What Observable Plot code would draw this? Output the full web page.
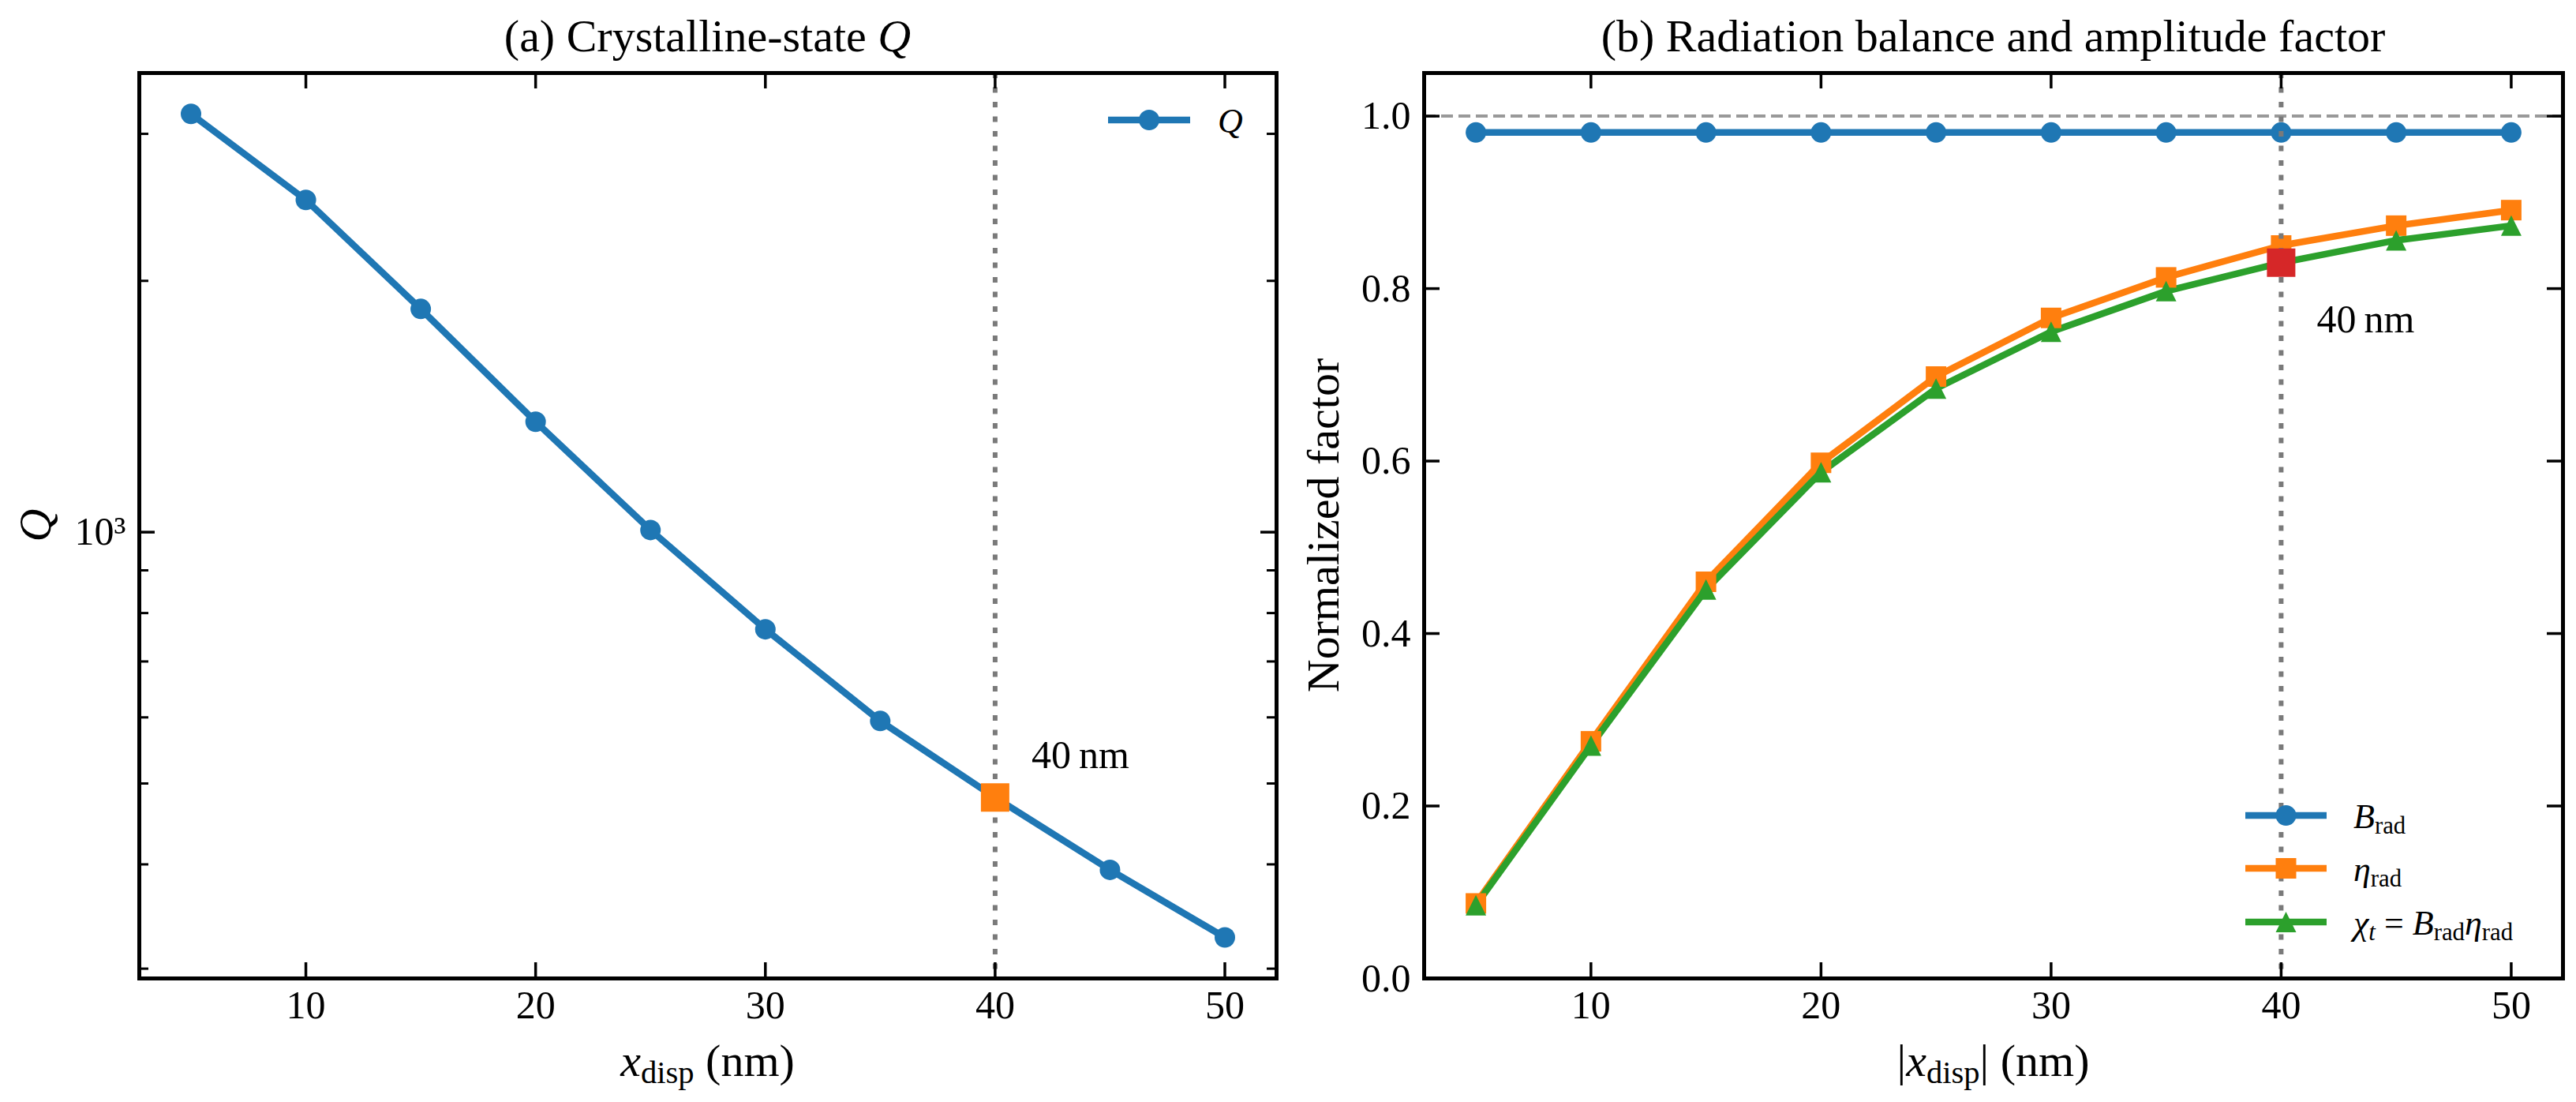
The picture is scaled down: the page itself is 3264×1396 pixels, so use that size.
<!DOCTYPE html>
<html>
<head>
<meta charset="utf-8">
<script src="https://cdn.jsdelivr.net/npm/d3@7"></script>
<script src="https://cdn.jsdelivr.net/npm/@observablehq/plot@0.6"></script>
<style>
html, body { margin: 0; padding: 0; background: #ffffff; }
#page { position: relative; width: 3264px; height: 1396px; overflow: hidden; background: #fff; }
.panel { position: absolute; top: 0; }
#overlay { position: absolute; left: 0; top: 0; pointer-events: none; }
</style>
</head>
<body>
<div id="page">
  <div id="left" class="panel" style="left:0px;width:1640px;"></div>
  <div id="right" class="panel" style="left:1640px;width:1624px;"></div>
</div>
<script>
// ---------------- data ----------------
const xDisp = [5, 10, 15, 20, 25, 30, 35, 40, 45, 50];
const qValues = [3170, 2500, 1851, 1356, 1006, 765, 594, 481, 394, 327];
const bRad = [0.981, 0.981, 0.981, 0.981, 0.981, 0.981, 0.981, 0.981, 0.981, 0.981];
const etaRad = [0.087, 0.275, 0.460, 0.598, 0.698, 0.766, 0.813, 0.850, 0.873, 0.891];
const chiT = [0.085, 0.270, 0.451, 0.587, 0.684, 0.750, 0.797, 0.830, 0.856, 0.873];
const xTicks = [10, 20, 30, 40, 50];
const qMajorTicks = [1000];
const qMinorTicks = [300, 400, 500, 600, 700, 800, 900, 2000, 3000];
const factorTicks = [0, 0.2, 0.4, 0.6, 0.8, 1.0];
const highlightX = 40;
const xDomain = [2.75, 52.25];
const qDomain = [292, 3548];
const factorDomain = [0, 1.05];

// ---------------- helpers ----------------
const FONT = '"Liberation Serif", "Times New Roman", "DejaVu Serif", serif';
const C = {blue: "#1f77b4", orange: "#ff7f0e", green: "#2ca02c", red: "#d62728"};
const H = 1396, MT = 92, MB = 157;
const FH = H - MT - MB;
const TL = 20, TLm = 12;

const mplSquare = {draw(ctx, size) { const r = Math.sqrt(size / Math.PI); ctx.rect(-r, -r, 2 * r, 2 * r); }};
const mplTriangle = {draw(ctx, size) { const r = Math.sqrt(size / Math.PI); ctx.moveTo(0, -r); ctx.lineTo(r, r); ctx.lineTo(-r, r); ctx.closePath(); }};

const qData = xDisp.map((x, i) => ({x, q: qValues[i]}));
const qHighlight = qData.filter(d => d.x === highlightX);
const series = [
  {key: "B", values: bRad, color: C.blue, symbol: "circle"},
  {key: "eta", values: etaRad, color: C.orange, symbol: mplSquare},
  {key: "chi", values: chiT, color: C.green, symbol: mplTriangle}
];
const fData = series.flatMap(s => xDisp.map((x, i) => ({x, v: s.values[i], key: s.key})));
const chiHighlight = xDisp.map((x, i) => ({x, v: chiT[i]})).filter(d => d.x === highlightX);

function ticksX(ticks, fw) {
  return [
    Plot.tickX(ticks, {x: d => d, insetTop: FH - TL, stroke: "black", strokeWidth: 3.5}),
    Plot.tickX(ticks, {x: d => d, insetBottom: FH - TL, stroke: "black", strokeWidth: 3.5})
  ];
}
function ticksY(ticks, fw, len, sw) {
  return [
    Plot.tickY(ticks, {y: d => d, insetRight: fw - len, stroke: "black", strokeWidth: sw}),
    Plot.tickY(ticks, {y: d => d, insetLeft: fw - len, stroke: "black", strokeWidth: sw})
  ];
}

// ---------------- panel (a) ----------------
const W1 = 1640, ML1 = 176, MR1 = 23;
const FW1 = W1 - ML1 - MR1;
const plotA = Plot.plot({
  width: W1, height: H,
  marginLeft: ML1, marginRight: MR1, marginTop: MT, marginBottom: MB,
  style: {fontFamily: FONT, fontSize: "50px", background: "white", color: "black", overflow: "visible"},
  x: {domain: xDomain},
  y: {type: "log", domain: qDomain},
  marks: [
    Plot.line(qData, {x: "x", y: "q", stroke: C.blue, strokeWidth: 8.5}),
    Plot.dot(qData, {x: "x", y: "q", r: 13, fill: C.blue, stroke: null}),
    Plot.ruleX([highlightX], {x: d => d, stroke: "#7a7a7a", strokeWidth: 6, strokeDasharray: "7,11.5"}),
    Plot.dot(qHighlight, {x: "x", y: "q", r: 18, symbol: mplSquare, fill: C.orange, stroke: null}),
    Plot.text(qHighlight, {x: "x", y: "q", text: () => "40\u2009nm", textAnchor: "start", lineAnchor: "bottom", dx: 46, dy: -37, fontSize: 50, fill: "black"}),
    ...ticksX(xTicks, FW1),
    ...ticksY(qMajorTicks, FW1, TL, 3.5),
    ...ticksY(qMinorTicks, FW1, TLm, 3),
    Plot.axisX({ticks: xTicks, tickSize: 0, tickPadding: 15, label: null, tickFormat: d3.format("d")}),
    Plot.axisY({ticks: qMajorTicks, tickSize: 0, tickPadding: 17, label: null, tickFormat: () => "10\u00B3"}),
    Plot.frame({stroke: "black", strokeWidth: 5})
  ]
});
document.getElementById("left").appendChild(plotA);

// ---------------- panel (b) ----------------
const W2 = 1624, ML2 = 164, MR2 = 17;
const FW2 = W2 - ML2 - MR2;
const plotB = Plot.plot({
  width: W2, height: H,
  marginLeft: ML2, marginRight: MR2, marginTop: MT, marginBottom: MB,
  style: {fontFamily: FONT, fontSize: "50px", background: "white", color: "black", overflow: "visible"},
  x: {domain: xDomain},
  y: {domain: factorDomain},
  marks: [
    Plot.ruleY([1.0], {y: d => d, stroke: "#999999", strokeWidth: 4, strokeDasharray: "15,7"}),
    ...series.map(s => Plot.line(fData.filter(d => d.key === s.key), {x: "x", y: "v", stroke: s.color, strokeWidth: 8.5})),
    ...series.map(s => Plot.dot(fData.filter(d => d.key === s.key), {x: "x", y: "v", r: 13, symbol: s.symbol, fill: s.color, stroke: null})),
    Plot.ruleX([highlightX], {x: d => d, stroke: "#7a7a7a", strokeWidth: 6, strokeDasharray: "7,11.5"}),
    Plot.dot(chiHighlight, {x: "x", y: "v", r: 18, symbol: mplSquare, fill: C.red, stroke: null}),
    Plot.text(chiHighlight, {x: "x", y: "v", text: () => "40\u2009nm", textAnchor: "start", lineAnchor: "bottom", dx: 45, dy: 88, fontSize: 50, fill: "black"}),
    ...ticksX(xTicks, FW2),
    ...ticksY(factorTicks, FW2, TL, 3.5),
    Plot.axisX({ticks: xTicks, tickSize: 0, tickPadding: 15, label: null, tickFormat: d3.format("d")}),
    Plot.axisY({ticks: factorTicks, tickSize: 0, tickPadding: 17, label: null, tickFormat: d3.format(".1f")}),
    Plot.frame({stroke: "black", strokeWidth: 5})
  ]
});
document.getElementById("right").appendChild(plotB);

// ---------------- overlay text (titles, labels, legends) ----------------
const ov = d3.select("#page").append("svg").attr("id", "overlay")
  .attr("width", 3264).attr("height", 1396)
  .style("font-family", FONT).attr("fill", "black");

function rich(sel, parts, fs) {
  let shifted = 0;
  parts.forEach(p => {
    const ts = sel.append("tspan").text(p.t);
    if (p.italic) ts.attr("font-style", "italic");
    if (p.sub) {
      ts.attr("font-size", fs * 0.7);
      const sh = Math.round(fs * 0.16);
      if (shifted !== sh) { ts.attr("dy", sh - shifted); shifted = sh; }
    } else if (shifted) {
      ts.attr("dy", -shifted); shifted = 0;
    }
  });
}
function addText(x, y, parts, fs, anchor = "middle", rotate = 0) {
  const t = ov.append("text")
    .attr("transform", `translate(${x},${y})` + (rotate ? ` rotate(${rotate})` : ""))
    .attr("text-anchor", anchor).attr("font-size", fs);
  rich(t, parts, fs);
  return t;
}

const cxA = ML1 + FW1 / 2;
const cxB = 1640 + ML2 + FW2 / 2;
const cy = MT + FH / 2;

addText(cxA, 65, [{t: "(a) Crystalline-state "}, {t: "Q", italic: true}], 58);
addText(cxB, 65, [{t: "(b) Radiation balance and amplitude factor"}], 58);
addText(cxA, 1363, [{t: "x", italic: true}, {t: "disp", sub: true}, {t: " (nm)"}], 58);
addText(cxB, 1363, [{t: "|"}, {t: "x", italic: true}, {t: "disp", sub: true}, {t: "| (nm)"}], 58);
addText(64, cy, [{t: "Q", italic: true}], 58, "middle", -90);
addText(1696, cy, [{t: "Normalized factor"}], 58, "middle", -90);

function legendRow(x0, x1, y, color, symbol, parts, tx) {
  ov.append("line").attr("x1", x0).attr("x2", x1).attr("y1", y).attr("y2", y)
    .attr("stroke", color).attr("stroke-width", 8.5);
  const sym = symbol === "circle" ? d3.symbolCircle : symbol;
  ov.append("path").attr("d", d3.symbol(sym, Math.PI * 13 * 13)())
    .attr("transform", `translate(${(x0 + x1) / 2},${y})`).attr("fill", color);
  addText(tx, y + 16, parts, 44, "start");
}
legendRow(1404, 1508, 152, C.blue, "circle", [{t: "Q", italic: true}], 1543);
const legY = [1033, 1100, 1168];
legendRow(2845, 2948, legY[0], C.blue, "circle", [{t: "B", italic: true}, {t: "rad", sub: true}], 2982);
legendRow(2845, 2948, legY[1], C.orange, mplSquare, [{t: "η", italic: true}, {t: "rad", sub: true}], 2982);
legendRow(2845, 2948, legY[2], C.green, mplTriangle,
  [{t: "χ", italic: true}, {t: "t", italic: true, sub: true}, {t: " = "}, {t: "B", italic: true}, {t: "rad", sub: true}, {t: "η", italic: true}, {t: "rad", sub: true}], 2982);
</script>
</body>
</html>
